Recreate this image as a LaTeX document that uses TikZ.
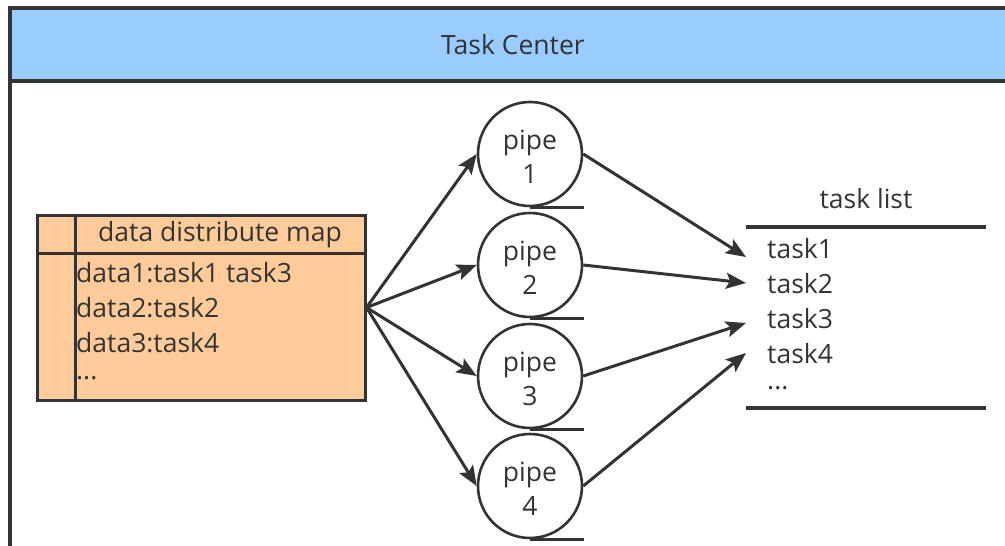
\documentclass[tikz,border=0pt]{standalone}
\usepackage{fontspec}
\setmainfont{Open Sans}
\usetikzlibrary{arrows.meta}
\definecolor{ink}{HTML}{333333}
\definecolor{headblue}{HTML}{99CCFF}
\definecolor{mapfill}{HTML}{FFCC99}
\tikzset{
  lbl/.style={font=\fontsize{26.5}{33}\selectfont, text=ink, inner sep=0pt},
  pipenode/.style={circle, draw=ink, line width=2.6pt, minimum size=104pt, inner sep=0pt, align=center, font=\fontsize{26.5}{33}\selectfont, text=ink},
  flow/.style={draw=ink, line width=3pt, -{Stealth[length=20pt,width=16pt,inset=4pt]}},
  frameline/.style={draw=ink, line width=3.5pt},
}
\begin{document}
\begin{tikzpicture}[x=1pt,y=-1pt]
\useasboundingbox (0,0) rectangle (1005,546);
\begin{scope}
\clip (0,0) rectangle (1005,546);
% header band and outer frame
\fill[headblue] (10,8) rectangle (1015,81);
\draw[frameline] (10,560) -- (10,8) -- (1015,8);
\draw[frameline] (10,81) -- (1015,81);
\node[lbl] (title) at (513,45) {Task Center};

% data distribute map table
\node[draw=ink, fill=mapfill, line width=3pt, minimum width=328pt, minimum height=185pt, inner sep=0pt] (map) at (201,307.5) {};
\draw[ink, line width=3pt] (37,253) -- (365,253);
\draw[ink, line width=3pt] (75,215) -- (75,400);
\node[lbl] (maphead) at (220,235) {data distribute map};
\node[lbl, anchor=west] (row1) at (76,273) {data1:task1 task3};
\node[lbl, anchor=west] (row2) at (76,308) {data2:task2};
\node[lbl, anchor=west] (row3) at (76,343) {data3:task4};
\node[lbl, anchor=west] (row4) at (76,378) {...};

% pipes (sequential storage shape)
\foreach \i/\y in {1/154,2/265,3/376,4/486}{
  \node[pipenode] (p\i) at (530,\y) {};
  \node[lbl, align=center] (t\i) at (530,\y+3) {pipe\\[1pt]\i};
  \draw[ink, line width=3.5pt] (p\i.south) -- ++(54,0);
}

% task list
\draw[ink, line width=3.5pt] (746,227) -- (986,227);
\draw[ink, line width=3.5pt] (746,408) -- (986,408);
\node[lbl] (listhead) at (866,199) {task list};
\node[lbl, anchor=west] (task1) at (767,249) {task1};
\node[lbl, anchor=west] (task2) at (767,284) {task2};
\node[lbl, anchor=west] (task3) at (767,319) {task3};
\node[lbl, anchor=west] (task4) at (767,354) {task4};
\node[lbl, anchor=west] (taskmore) at (767,388) {...};
\coordinate (in1) at (746,257);
\coordinate (in2) at (746,283);
\coordinate (in3) at (746,323);
\coordinate (in4) at (746,353);

% connectors
\foreach \i in {1,...,4}{
  \draw[flow] (map.east) -- (p\i.west);
  \draw[flow] (p\i.east) -- (in\i);
}
\end{scope}
\end{tikzpicture}
\end{document}
